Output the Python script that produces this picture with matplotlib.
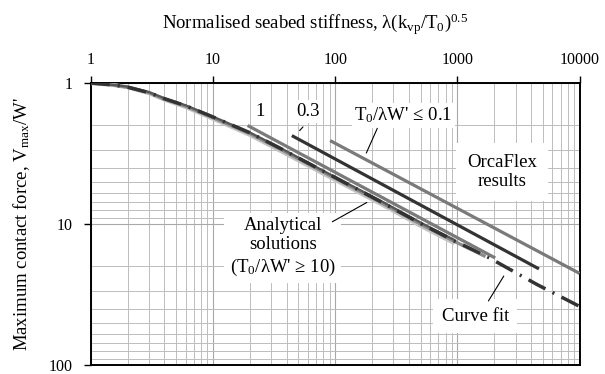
import matplotlib
matplotlib.use("Agg")
import matplotlib.pyplot as plt
from matplotlib.ticker import NullFormatter

plt.rcParams["font.family"] = ["Liberation Serif", "DejaVu Serif"]
plt.rcParams["mathtext.fontset"] = "custom"
plt.rcParams["mathtext.rm"] = "Liberation Serif"
plt.rcParams["mathtext.it"] = "Liberation Serif"

# analytical solutions (T0/lambda W' >= 10)
ana_x = [1, 1.5, 2, 3, 4, 6, 10, 20, 36, 92, 240, 510, 950, 1700]
ana_light_y = [1, 1.03, 1.07, 1.18, 1.31, 1.48, 1.79, 2.33, 3.04, 4.68, 7.25, 10.4, 13.7]
ana_mid_y = [1, 1.03, 1.07, 1.17, 1.30, 1.46, 1.76, 2.28, 2.96, 4.56, 7.07, 10.1, 13.3, 17.0]
ana_dark_y = [1, 1.03, 1.06, 1.16, 1.28, 1.44, 1.73, 2.24, 2.90, 4.47, 6.90, 9.85, 13.0]

# curve fit
fit_x = [1, 1.5, 2, 3, 4, 6, 10, 20, 36, 92, 240, 510, 950, 1700, 4500, 10000]
fit_y = [1, 1.03, 1.07, 1.17, 1.29, 1.45, 1.74, 2.25, 2.92, 4.5, 7.0, 10.0, 13.2, 16.8, 26.9, 38.4]

# OrcaFlex results for T0/lambda W' = 1, 0.3, 0.1
orca1_x = [19.2, 2040]
orca1_y = [2.0, 17.4]
orca03_x = [44.2, 4650]
orca03_y = [2.36, 20.8]
orca01_x = [90.9, 10000]
orca01_y = [2.56, 22.4]

x_ticks = [1, 10, 100, 1000, 10000]
y_ticks = [1, 10, 100]

fig = plt.figure(figsize=(6.05, 3.74), dpi=100)
ax = fig.add_axes([0.150, 0.024, 0.808, 0.754])

ax.set_xscale("log")
ax.set_yscale("log")
ax.set_xlim(1, 10000)
ax.set_ylim(100, 1)

ax.plot(ana_x[:len(ana_light_y)], ana_light_y, color="#c4c4c4", lw=3.0, solid_capstyle="butt", zorder=3)
ax.plot(ana_x[:len(ana_mid_y)], ana_mid_y, color="#8a8a8a", lw=2.4, solid_capstyle="butt", zorder=3)
ax.plot(ana_x[:len(ana_dark_y)], ana_dark_y, color="#555555", lw=1.6, solid_capstyle="butt", zorder=3)
ax.plot(fit_x, fit_y, color="#333333", lw=2.5, linestyle=(0, (5.5, 2.3, 0.6, 2.3)), zorder=4)

ax.plot(orca1_x, orca1_y, color="#7a7a7a", lw=2.3, solid_capstyle="butt", zorder=4)
ax.plot(orca03_x, orca03_y, color="#333333", lw=2.3, solid_capstyle="butt", zorder=4)
ax.plot(orca01_x, orca01_y, color="#7a7a7a", lw=2.3, solid_capstyle="butt", zorder=4)

ax.xaxis.tick_top()
ax.xaxis.set_label_position("top")
ax.set_xticks(x_ticks)
ax.set_xticklabels([str(v) for v in x_ticks])
ax.set_yticks(y_ticks)
ax.set_yticklabels([str(v) for v in y_ticks])
ax.xaxis.set_minor_formatter(NullFormatter())
ax.yaxis.set_minor_formatter(NullFormatter())
ax.tick_params(which="major", length=5, width=1, labelsize=11.5)
ax.tick_params(axis="x", which="major", pad=6)
ax.tick_params(axis="y", which="major", pad=8)
ax.tick_params(which="minor", length=0)

ax.grid(which="major", color="#a8a8a8", lw=0.8, zorder=0)
ax.grid(which="minor", color="#bdbdbd", lw=0.7, zorder=0)
ax.set_axisbelow(True)
for s in ax.spines.values():
    s.set_linewidth(1.4)

ax.set_xlabel("Normalised seabed stiffness, λ(k$_{\\rm vp}$/T$_0$)$^{0.5}$", fontsize=13.5)
ax.xaxis.set_label_coords(0.46, 1.19)
ax.set_ylabel("Maximum contact force, V$_{\\rm max}$/W'", fontsize=13.5, labelpad=12)

box = dict(facecolor="white", edgecolor="none", pad=2)
ax.text(24.5, 1.6, "1", fontsize=13.5, ha="center", va="center", bbox=box, zorder=5)
ax.text(60, 1.6, "0.3", fontsize=13.5, ha="center", va="center", bbox=box, zorder=5)
ax.annotate("", xy=(49.4, 2.25), xytext=(56.5, 1.98),
            arrowprops=dict(arrowstyle="-", color="black", lw=0.8), zorder=5)
ax.text(362, 1.7, "T$_0$/λW' ≤ 0.1", fontsize=13.5, ha="center", va="center", bbox=box, zorder=5)
ax.annotate("", xy=(176, 3.27), xytext=(226, 2.01),
            arrowprops=dict(arrowstyle="-", color="black", lw=0.8), zorder=5)

ax.text(2318, 4.3, "OrcaFlex\nresults", fontsize=13.5, ha="center", va="center",
        linespacing=1.15, bbox=dict(facecolor="white", edgecolor="none", pad=8), zorder=5)

ax.text(37.3, 14.6, "Analytical\nsolutions\n(T$_0$/λW' ≥ 10)", fontsize=13.5, ha="center", va="center",
        linespacing=1.2, bbox=dict(facecolor="white", edgecolor="none", pad=4), zorder=5)
ax.annotate("", xy=(190, 6.88), xytext=(90.6, 9.85),
            arrowprops=dict(arrowstyle="-", color="black", lw=0.8), zorder=5)

ax.text(1398, 45, "Curve fit", fontsize=13.5, ha="center", va="center",
        bbox=dict(facecolor="white", edgecolor="none", pad=6), zorder=5)
ax.annotate("", xy=(2464, 22.5), xytext=(1747, 36.5),
            arrowprops=dict(arrowstyle="-", color="black", lw=0.8), zorder=5)

fig.savefig("out.png", dpi=100)
